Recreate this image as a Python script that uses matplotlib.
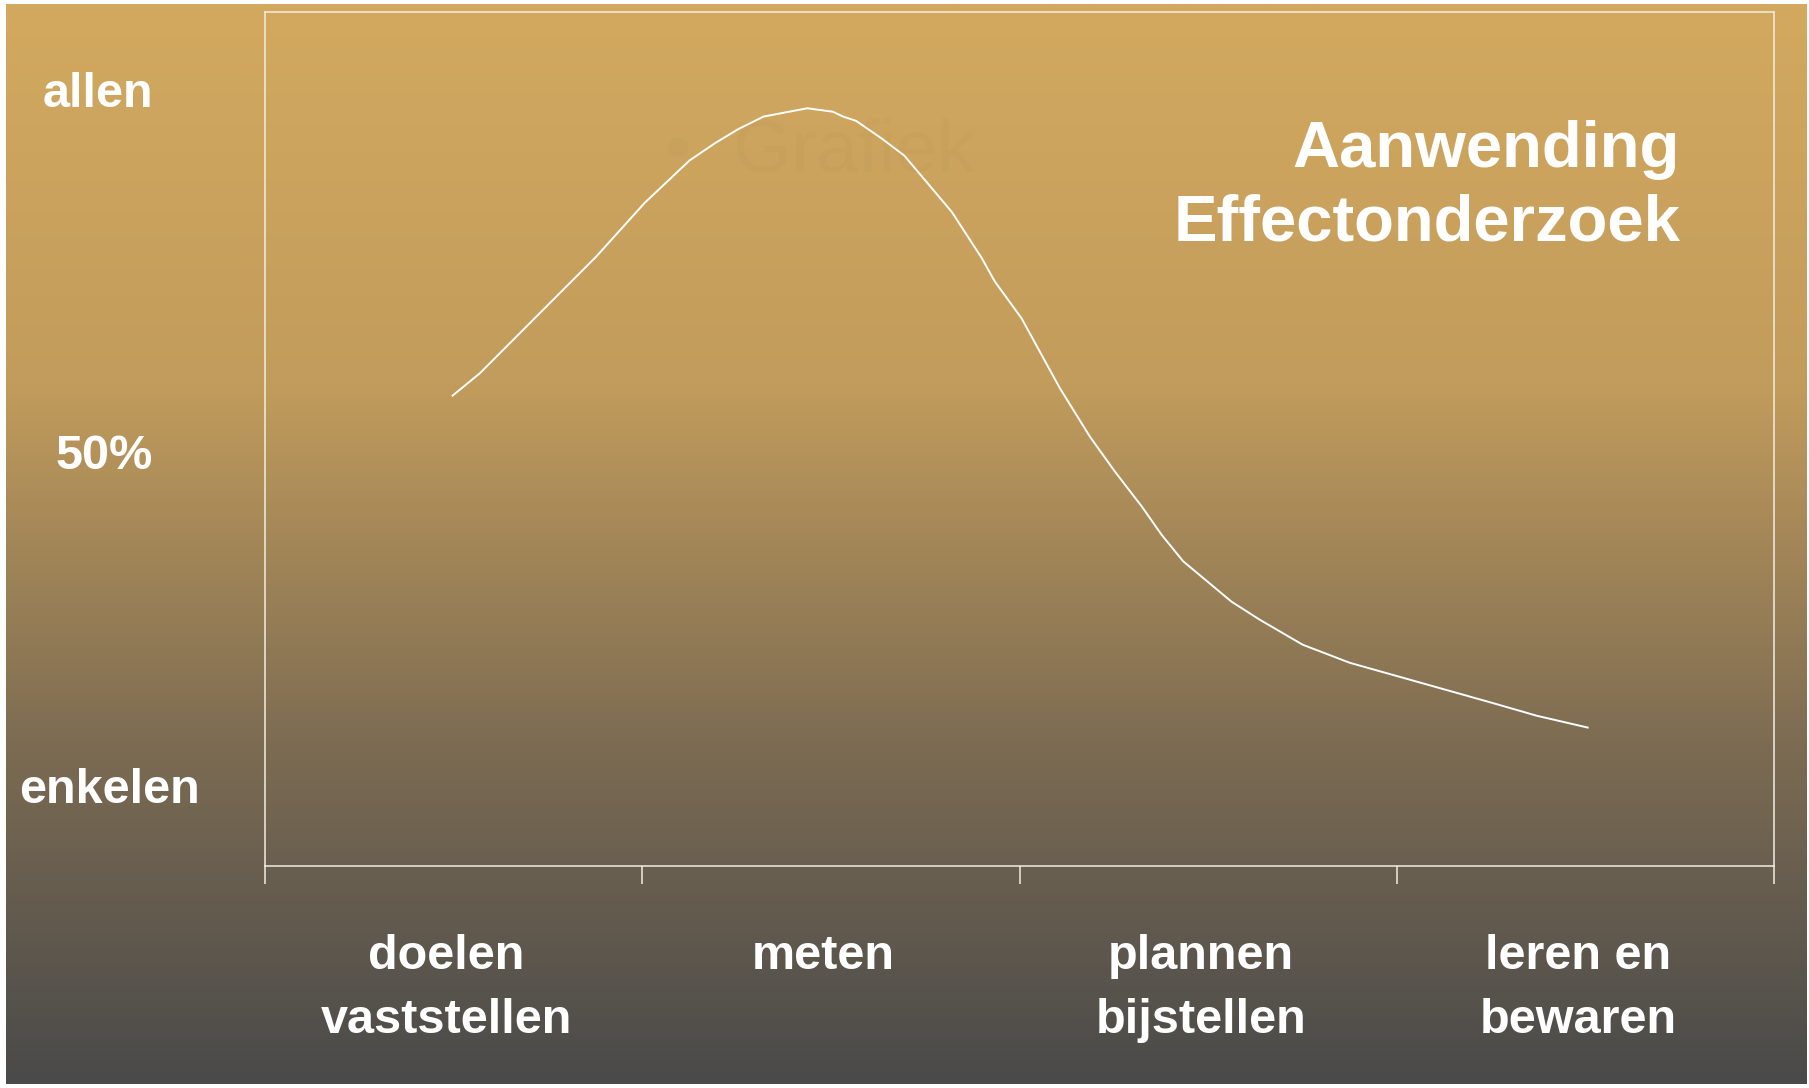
import numpy as np
import matplotlib
matplotlib.use("Agg")
import matplotlib.pyplot as plt
from matplotlib.colors import LinearSegmentedColormap
import matplotlib.transforms as mtransforms

# curve (x: phase axis 0..4, y: 0 = enkelen, 100 = allen)
curve_x = [0.497, 0.569, 0.878, 1.006, 1.125, 1.193, 1.254, 1.321, 1.437, 1.505,
           1.532, 1.566, 1.633, 1.694, 1.820, 1.899, 1.934, 2.005, 2.106, 2.186,
           2.252, 2.323, 2.376, 2.433, 2.561, 2.636, 2.750, 2.875, 3.052, 3.255,
           3.370, 3.505]
curve_y = [56.7, 59.9, 76.7, 84.4, 90.5, 93.0, 95.0, 96.8, 98.0, 97.5,
           96.8, 96.2, 93.7, 91.2, 83.1, 76.5, 73.1, 67.8, 57.8, 50.8,
           45.8, 40.8, 36.7, 32.9, 27.1, 24.5, 20.9, 18.3, 15.6, 12.5,
           10.7, 9.0]

phases = ["doelen\nvaststellen", "meten", "plannen\nbijstellen", "leren en\nbewaren"]
level_labels = ["enkelen", "50%", "allen"]
level_pos = [0, 48, 100]
title_lines = ["Aanwending", "Effectonderzoek"]

plt.rcParams["font.family"] = ["Liberation Sans", "DejaVu Sans"]

fig = plt.figure(figsize=(18.09, 10.88), dpi=100)
fig.patch.set_facecolor("white")

# background gradient (tan on top -> dark grey at the bottom)
bg = fig.add_axes([0.0035, 0.004, 0.9955, 0.9925])
bg.set_axis_off()
cmap = LinearSegmentedColormap.from_list(
    "bg", [(0.0, "#d3a95f"), (0.35, "#c29c5c"), (0.7, "#7a6a52"), (1.0, "#4a4a4a")])
grad = np.linspace(0, 1, 512).reshape(-1, 1)
bg.imshow(grad, aspect="auto", cmap=cmap, extent=[0, 1, 1, 0])
bg.set_xlim(0, 1)
bg.set_ylim(1, 0)

# faint watermark left over from the slide placeholder
fig.text(0.3676, 0.8603, "\u2022  Grafiek", color="black", alpha=0.014,
         fontsize=54, ha="left", va="center")

ax = fig.add_axes([0.1465, 0.2037, 0.8344, 0.7857])
ax.set_facecolor("none")
for s in ax.spines.values():
    s.set_color("#f2ede2")
    s.set_linewidth(1.1)

ax.plot(curve_x, curve_y, color="white", lw=1.4)

ax.set_xlim(0, 4)
ax.set_ylim(-10.95, 111.9)
ax.set_xticks(range(len(phases) + 1))
ax.set_xticklabels([])
ax.set_yticks([])
ax.tick_params(axis="x", direction="out", length=13, width=1.1, color="#f2ede2")

# phase labels under the axis, one baseline per line
trans = mtransforms.blended_transform_factory(ax.transData, ax.transAxes)
baselines = [-0.1205, -0.1950]
for i, lab in enumerate(phases):
    for line, yb in zip(lab.split("\n"), baselines):
        ax.text(i + 0.48, yb, line, transform=trans, ha="center", va="baseline",
                color="white", fontsize=35, fontweight="bold")

# level labels on the left
trans_y = mtransforms.blended_transform_factory(fig.transFigure, ax.transData)
label_x = [0.0606, 0.0577, 0.054]
for lab, yv, xf in zip(level_labels, level_pos, label_x):
    fig.text(xf, yv, lab, transform=trans_y, ha="center", va="center",
             color="white", fontsize=35, fontweight="bold")

for line, yb in zip(title_lines, [0.8465, 0.7785]):
    fig.text(0.9287, yb, line, ha="right", va="baseline",
             color="white", fontsize=47, fontweight="bold")

fig.savefig("out.png", dpi=100, facecolor=fig.get_facecolor())
